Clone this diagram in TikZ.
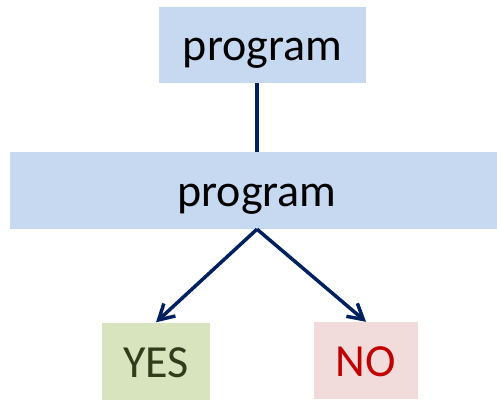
\documentclass[tikz,border=0pt]{standalone}
\usepackage{fontspec}
\setmainfont{Carlito}
\usetikzlibrary{arrows.meta}
\definecolor{boxblue}{RGB}{198,217,240}
\definecolor{boxgreen}{RGB}{215,228,189}
\definecolor{boxpink}{RGB}{242,220,219}
\definecolor{yestext}{RGB}{50,60,28}
\definecolor{notext}{RGB}{192,0,0}
\definecolor{linkblue}{RGB}{0,32,96}
\tikzset{
    box/.style={inner sep=0pt, text height=38pt, text depth=6pt, font=\fontsize{46}{50}\selectfont},
    arc/.style={draw=linkblue, line width=3.5pt},
}

\begin{document}
\begin{tikzpicture}[x=1pt, y=1pt]
    \useasboundingbox (0, 0) rectangle (497, 399);
    \path (262.5, 354) node [box, fill=boxblue, minimum width=207pt, minimum height=76pt] (top) {program};
    \path (257, 208.5) node [box, fill=boxblue, minimum width=494pt, minimum height=77pt] (mid) {program};
    \draw [arc] (mid.north) -- (mid.north |- top.south);
    \path (156, 38) node [box, fill=boxgreen, text=yestext, minimum width=108pt, minimum height=77pt] (yes) {YES};
    \path (366, 38.5) node [box, fill=boxpink, text=notext, minimum width=104pt, minimum height=77pt] (no) {NO};
    \draw [arc, -{Straight Barb[length=15pt, width=17pt]}] (mid.south) -- (yes.north);
    \draw [arc, -{Straight Barb[length=15pt, width=17pt]}] (mid.south) -- (no.north);
\end{tikzpicture}
\end{document}
